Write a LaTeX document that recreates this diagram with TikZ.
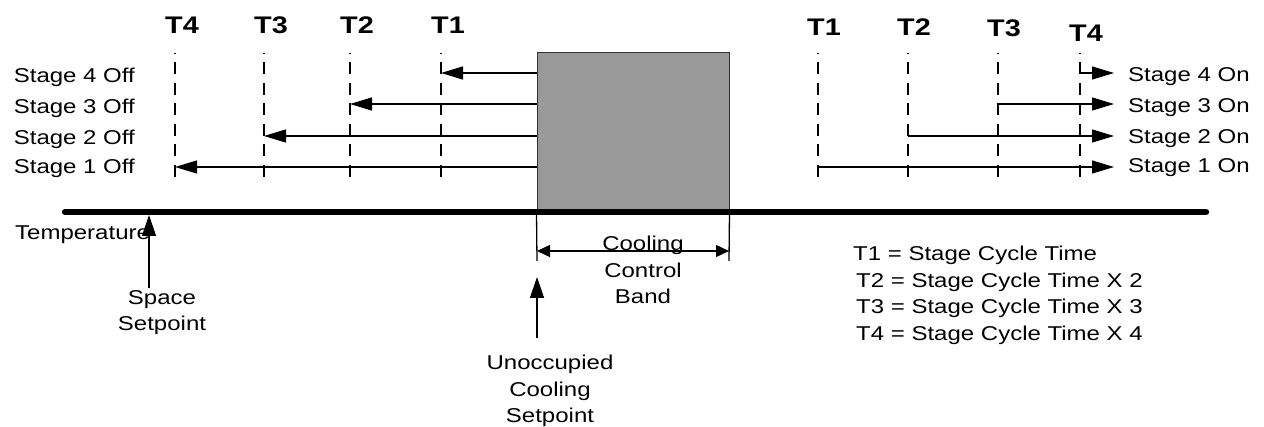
\documentclass[tikz,border=0pt]{standalone}
\usepackage{fontspec}
\setmainfont{Liberation Sans}[FakeStretch=1.2]
\usetikzlibrary{arrows.meta}

\tikzset{
  textlabel/.style={font=\fontsize{20}{26.5}\selectfont, inner sep=0pt},
  tlabel/.style={font=\fontsize{24}{28}\selectfont\bfseries, inner sep=0pt},
  timeline/.style={line width=1.3pt, dash pattern=on 12pt off 8.5pt, dash phase=11pt},
  stagearrow/.style={line width=1.3pt, -{Triangle[length=22pt,width=13pt]}},
  dimarrow/.style={line width=1.3pt, {Triangle[length=13pt,width=12pt]}-{Triangle[length=13pt,width=12pt]}},
  bandbox/.style={draw=black!80, line width=1pt, fill=black!40, minimum width=192, minimum height=159, inner sep=0pt},
  tempaxis/.style={line width=6.5pt, line cap=round}
}

\begin{document}
\begin{tikzpicture}[x=1pt,y=-1pt]
  \useasboundingbox (0,0) rectangle (1264,427);
  \node[bandbox] (band) at (633,132.5) {};
  \foreach \n/\xl/\xr/\yr in {1/441/818/27,2/350/908/27,3/264/998/28,4/175/1080/33}{
    \coordinate (offtop\n) at (\xl,53);
    \coordinate (offbot\n) at (\xl,180);
    \coordinate (ontop\n) at (\xr,53);
    \coordinate (onbot\n) at (\xr,180);
    \draw[timeline] (offtop\n) -- (offbot\n);
    \draw[timeline] (ontop\n) -- (onbot\n);
    \node[tlabel] (offT\n) at (\xl+7,25) {T\n};
    \node[tlabel] (onT\n) at (\xr+6,\yr) {T\n};
  }
  \foreach \n/\y/\ya in {1/168/167,2/139/136,3/108/104,4/77/73}{
    \pgfmathtruncatemacro\m{5-\n}
    \node[textlabel, anchor=east] (off\n) at (135,\y) {Stage \n\ Off};
    \node[textlabel, anchor=west] (on\n) at (1128,\y) {Stage \n\ On};
    \coordinate (row\n) at (0,\ya);
    \coordinate (tip\n) at (1114,\ya);
    \draw[stagearrow] (band.west |- row\n) -- (offtop\m |- row\n);
    \draw[stagearrow] (ontop\n |- row\n) -- (tip\n);
  }
  \coordinate (axl) at (65,212);
  \coordinate (axr) at (1206,212);
  \draw[tempaxis] (axl) -- (axr);
  \node[textlabel, anchor=west] (temp) at (15,235) {Temperature};
  % setpoints
  \node[textlabel, align=center] (space) at (162,312.5) {Space\\Setpoint};
  \coordinate (spacetail) at (149,288);
  \coordinate (spacetip) at (149,215);
  \draw[stagearrow, -{Triangle[length=21pt,width=14pt]}] (spacetail) -- (spacetip);
  \node[textlabel, align=center] (unocc) at (550,391) {Unoccupied\\Cooling\\Setpoint};
  \coordinate (unocctail) at (537,338);
  \coordinate (unocctip) at (537,277);
  \draw[stagearrow, -{Triangle[length=21pt,width=14pt]}] (unocctail) -- (unocctip);
  % band width
  \coordinate (bandl) at (537,261);
  \coordinate (bandr) at (729,261);
  \coordinate (diml) at (537,251);
  \coordinate (dimr) at (729,251);
  \draw[line width=1.3pt] (band.south west) -- (bandl);
  \draw[line width=1.3pt] (band.south east) -- (bandr);
  \draw[dimarrow] (diml) -- (dimr);
  \node[textlabel, align=center] (bandtext) at (643,270) {Cooling\\Control\\Band};
  % legend
  \node[textlabel, anchor=west] (leg1) at (853,255) {T1 = Stage Cycle Time};
  \node[textlabel, anchor=west] (leg2) at (856,282) {T2 = Stage Cycle Time X 2};
  \node[textlabel, anchor=west] (leg3) at (856,308) {T3 = Stage Cycle Time X 3};
  \node[textlabel, anchor=west] (leg4) at (856,335) {T4 = Stage Cycle Time X 4};
\end{tikzpicture}
\end{document}
